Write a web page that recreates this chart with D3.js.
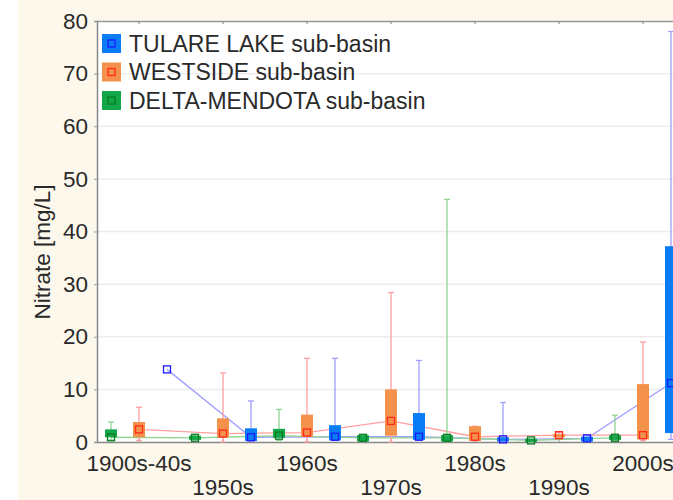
<!DOCTYPE html>
<html>
<head>
<meta charset="utf-8">
<script src="https://cdn.jsdelivr.net/npm/d3@7"></script>
<style>
    body { margin: 0; background: #fdf8ec; }
    svg { display: block; }
    svg text { font-family: 'Liberation Sans', Arial, sans-serif; }
</style>
</head>
<body>
<script>
var categories = ['1900s-40s', '1950s', '1960s', '1970s', '1980s', '1990s', '2000s']
var yTicks = [0, 10, 20, 30, 40, 50, 60, 70, 80]

// TULARE LAKE
var tulareMin = [null, 0.2, 0.3, 0.4, 0.1, 0.1, 0.5]
var tulareQ1 = [null, 0.2, 0.3, 0.4, 0.1, 0.1, 1.7]
var tulareQ3 = [null, 2.6, 3.2, 5.5, 0.9, 1.0, 37.2]
var tulareMax = [null, 7.8, 15.9, 15.5, 7.5, 1.2, 78]
var tulareMid = [13.8, 0.9, 1.0, 1.0, 0.5, 0.7, 11.2]

// WESTSIDE
var westMin = [0.3, 0, 0, 0, 0.2, 0.9, 0.3]
var westQ1 = [0.9, 0.9, 1.0, 1.2, 0.2, 0.9, 0.5]
var westQ3 = [3.8, 4.5, 5.2, 10.0, 3.0, 1.5, 11.0]
var westMax = [6.6, 13.1, 15.9, 28.4, 3.0, 1.8, 19.0]
var westMid = [2.4, 1.6, 1.8, 4.0, 1.0, 1.3, 1.3]

// DELTA-MENDOTA
var deltaMin = [0.4, 0.4, 0.3, 0.1, 0.1, 0, 0.3]
var deltaQ1 = [0.9, 0.4, 0.8, 0.1, 0.1, 0, 0.4]
var deltaQ3 = [2.4, 1.2, 2.5, 1.3, 1.3, 0.6, 1.3]
var deltaMax = [3.8, 1.2, 6.2, 1.3, 46.1, 0.6, 5.1]
var deltaMid = [0.9, 0.8, 1.2, 0.8, 0.8, 0.3, 0.8]

var series = [
    { name: 'TULARE LAKE sub-basin', min: tulareMin, q1: tulareQ1, q3: tulareQ3, max: tulareMax, mid: tulareMid,
      offset: 28, fill: '#0a7df5', mark: '#1a1aff', line: '#a0a0ff' },
    { name: 'WESTSIDE sub-basin', min: westMin, q1: westQ1, q3: westQ3, max: westMax, mid: westMid,
      offset: 0, fill: '#f4914a', mark: '#ff2a1a', line: '#ffa0a0' },
    { name: 'DELTA-MENDOTA sub-basin', min: deltaMin, q1: deltaQ1, q3: deltaQ3, max: deltaMax, mid: deltaMid,
      offset: -28, fill: '#12a84a', mark: '#0a7a20', line: '#92d492' }
]

var width = 673
var height = 500
var plotLeft = 97
var plotTop = 21
var plotBottom = 442
var bandW = 84
var boxW = 12
var fontSize = 22.5

var svg = d3.select('body').append('svg')
    .attr('width', width)
    .attr('height', height)

var x = d3.scaleBand()
    .domain(categories)
    .range([plotLeft, plotLeft + bandW * categories.length])
    .padding(0)

var y = d3.scaleLinear()
    .domain([0, 80])
    .range([plotBottom, plotTop])

function cx(i) {
    return x(categories[i]) + x.bandwidth() / 2
}

// white strip on the far left of the picture
svg.append('rect')
    .attr('width', 18)
    .attr('height', height)
    .attr('fill', '#fff')

// plot background
svg.append('rect')
    .attr('x', plotLeft)
    .attr('y', plotTop)
    .attr('width', width - plotLeft)
    .attr('height', plotBottom - plotTop)
    .attr('fill', '#fff')

// gridlines
svg.append('g')
    .selectAll('line')
    .data(yTicks.slice(1, -1))
    .enter()
    .append('line')
    .attr('x1', plotLeft)
    .attr('x2', width)
    .attr('y1', d => y(d))
    .attr('y2', d => y(d))
    .attr('stroke', '#ececec')
    .attr('stroke-width', 1.5)

// y axis
var yAxis = svg.append('g')
    .attr('transform', 'translate(' + plotLeft + ',0)')
    .call(d3.axisLeft(y).tickValues(yTicks).tickSize(3).tickPadding(6))
yAxis.attr('font-family', null)
yAxis.select('.domain').attr('stroke', '#888').attr('stroke-width', 1.5)
yAxis.selectAll('.tick line').attr('stroke', '#999')
yAxis.selectAll('text').attr('font-size', fontSize).attr('fill', '#2a2a2a')

// x axis (bottom), labels alternate between two rows
var xAxis = svg.append('g')
    .attr('transform', 'translate(0,' + plotBottom + ')')
    .call(d3.axisBottom(x).tickSize(-3).tickSizeOuter(0).tickPadding(10))
xAxis.attr('font-family', null)
xAxis.select('.domain').attr('stroke', '#888').attr('stroke-width', 1.5)
xAxis.selectAll('.tick line').attr('stroke', '#999')
xAxis.selectAll('text')
    .attr('font-size', fontSize)
    .attr('fill', '#2a2a2a')
    .attr('y', (d, i) => i % 2 ? 37 : 13)

// top frame
var topAxis = svg.append('g')
    .attr('transform', 'translate(0,' + plotTop + ')')
    .call(d3.axisTop(x).tickSize(-3).tickSizeOuter(0).tickFormat(''))
topAxis.select('.domain').attr('stroke', '#999').attr('stroke-width', 1.5)
topAxis.selectAll('.tick line').attr('stroke', '#888')

// y axis title
svg.append('text')
    .attr('transform', 'translate(42,252) rotate(-90)')
    .attr('text-anchor', 'middle')
    .attr('dy', '0.35em')
    .attr('font-size', fontSize)
    .attr('fill', '#2a2a2a')
    .text('Nitrate [mg/L]')

var marks = svg.append('g')

// connecting lines
series.forEach(function(s) {
    var line = d3.line()
        .x((d, i) => cx(i) + s.offset)
        .y(d => y(d))
    marks.append('path')
        .datum(s.mid)
        .attr('d', line)
        .attr('fill', 'none')
        .attr('stroke', s.line)
        .attr('stroke-width', 1.3)
})

// whiskers and boxes
series.forEach(function(s) {
    var g = marks.append('g')
    categories.forEach(function(c, i) {
        var px = cx(i) + s.offset
        if (s.max[i] != null) {
            g.append('line')
                .attr('x1', px).attr('x2', px)
                .attr('y1', y(s.min[i])).attr('y2', y(s.max[i]))
                .attr('stroke', s.line).attr('stroke-width', 1.3)
            ;[s.min[i], s.max[i]].forEach(function(v) {
                g.append('line')
                    .attr('x1', px - 3).attr('x2', px + 3)
                    .attr('y1', y(v)).attr('y2', y(v))
                    .attr('stroke', s.line).attr('stroke-width', 1.3)
            })
        }
        if (s.q3[i] != null) {
            g.append('rect')
                .attr('x', px - boxW / 2)
                .attr('y', y(s.q3[i]))
                .attr('width', boxW)
                .attr('height', Math.max(2, y(s.q1[i]) - y(s.q3[i])))
                .attr('fill', s.fill)
        }
    })
})

// median markers
series.forEach(function(s) {
    marks.append('g')
        .selectAll('rect')
        .data(s.mid)
        .enter()
        .append('rect')
        .attr('x', (d, i) => cx(i) + s.offset - 3.5)
        .attr('y', d => y(d) - 3.5)
        .attr('width', 7)
        .attr('height', 7)
        .attr('fill', 'none')
        .attr('stroke', s.mark)
        .attr('stroke-width', 1.3)
})

// legend
var legend = svg.append('g')
    .attr('transform', 'translate(102,34)')
var items = legend.selectAll('g')
    .data(series)
    .enter()
    .append('g')
    .attr('transform', (d, i) => 'translate(0,' + i * 28.5 + ')')
items.append('rect')
    .attr('width', 19)
    .attr('height', 19)
    .attr('fill', d => d.fill)
items.append('rect')
    .attr('x', 6)
    .attr('y', 6)
    .attr('width', 7)
    .attr('height', 7)
    .attr('fill', 'none')
    .attr('stroke', d => d.mark)
    .attr('stroke-width', 1.3)
items.append('text')
    .attr('x', 27)
    .attr('y', 9.5)
    .attr('dy', '0.35em')
    .attr('font-size', 23)
    .attr('fill', '#2a2a2a')
    .text(d => d.name)
</script>
</body>
</html>
